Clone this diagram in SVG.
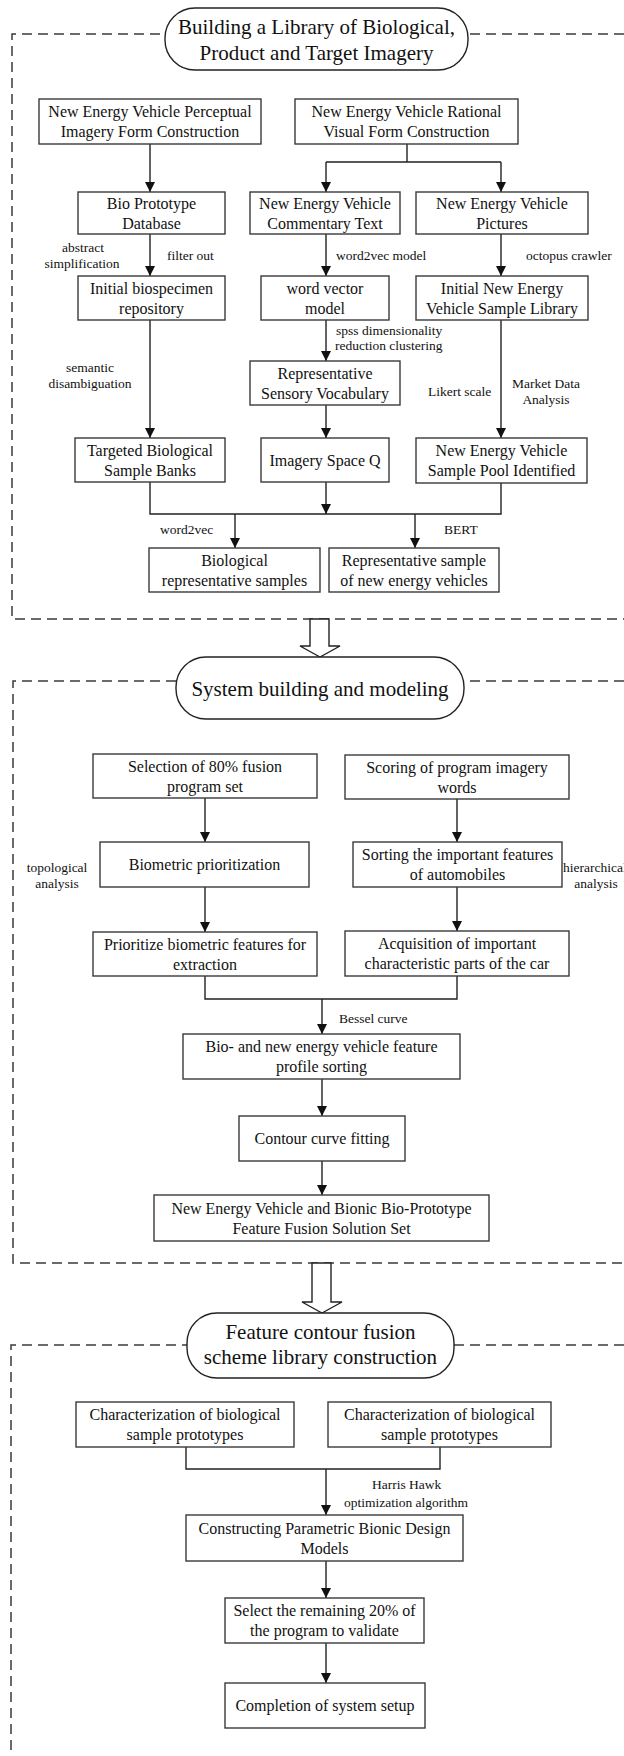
<svg xmlns="http://www.w3.org/2000/svg" width="624" height="1756" viewBox="0 0 624 1756">
<style>
  .box{fill:#fff;stroke:#3a3a3a;stroke-width:1.4}
  .pill{fill:#fff;stroke:#222;stroke-width:1.4}
  .frame{fill:none;stroke:#3a3a3a;stroke-width:1.5;stroke-dasharray:10 6}
  .ln{fill:none;stroke:#222;stroke-width:1.4}
  .arr{fill:none;stroke:#222;stroke-width:1.4;marker-end:url(#ah)}
  .blk{fill:#fff;stroke:#222;stroke-width:1.4}
  text{font-family:"Liberation Serif","Times New Roman",serif;fill:#111}
  .t{font-size:16px;text-anchor:middle}
  .h{font-size:21px;text-anchor:middle}
  .l{font-size:13.5px}
  .lm{font-size:13.5px;text-anchor:middle}
</style>
<defs>
  <marker id="ah" markerUnits="userSpaceOnUse" markerWidth="10" markerHeight="12" viewBox="0 0 10 12" refX="10" refY="6" orient="auto">
    <path d="M0,1 L10,6 L0,11 Z" fill="#111"/>
  </marker>
</defs>
<rect width="624" height="1756" fill="#fff"/>

<!-- frames -->
<g id="frames">
  <path class="frame" d="M640 34 H12 V619 H640"/>
  <path class="frame" d="M640 681 H13 V1263 H640"/>
  <path class="frame" d="M640 1345 H11 V1770"/>
</g>

<!-- block arrows -->
<g id="block-arrows">
  <path class="blk" d="M310 619 V646 H300 L320 657 L340 646 H329 V619 Z"/>
  <path class="blk" d="M312 1263 V1302 H302 L322 1313 L342 1302 H331 V1263 Z"/>
</g>

<!-- connectors -->
<g id="connectors">
  <path class="arr" d="M150 144 V192"/>
  <path class="ln" d="M407 144 V162 M326 162 H501"/>
  <path class="arr" d="M326 162 V192"/>
  <path class="arr" d="M501 162 V192"/>
  <path class="arr" d="M150 234 V276"/>
  <path class="arr" d="M326 234 V276"/>
  <path class="arr" d="M501 234 V276"/>
  <path class="arr" d="M150 320 V438"/>
  <path class="arr" d="M326 320 V361"/>
  <path class="arr" d="M501 320 V438"/>
  <path class="arr" d="M326 405 V438"/>
  <path class="ln" d="M150 482 V514 H501 V483"/>
  <path class="arr" d="M326 482 V514"/>
  <path class="arr" d="M235 514 V548"/>
  <path class="arr" d="M415 514 V548"/>

  <path class="arr" d="M205 798 V842"/>
  <path class="arr" d="M457 799 V842"/>
  <path class="arr" d="M205 887 V932"/>
  <path class="arr" d="M457 887 V931"/>
  <path class="ln" d="M205 976 V999 H457 V976"/>
  <path class="arr" d="M322 999 V1034"/>
  <path class="arr" d="M322 1079 V1116"/>
  <path class="arr" d="M322 1161 V1195"/>

  <path class="ln" d="M186 1447 V1469 H440 V1447"/>
  <path class="arr" d="M326 1469 V1515"/>
  <path class="arr" d="M326 1561 V1598"/>
  <path class="arr" d="M326 1643 V1683"/>
</g>

<!-- connector labels -->
<g id="labels">
  <text class="lm" x="83" y="251.5">abstract</text>
  <text class="lm" x="82" y="267.5">simplification</text>
  <text class="l" x="167" y="259.5">filter out</text>
  <text class="l" x="336" y="259.5">word2vec model</text>
  <text class="l" x="526" y="259.5">octopus crawler</text>
  <text class="l" x="336" y="334.5">spss dimensionality</text>
  <text class="l" x="335" y="349.5">reduction clustering</text>
  <text class="lm" x="90" y="371.5">semantic</text>
  <text class="lm" x="90" y="387.5">disambiguation</text>
  <text class="l" x="428" y="395.5">Likert scale</text>
  <text class="lm" x="546" y="387.5">Market Data</text>
  <text class="lm" x="546" y="403.5">Analysis</text>
  <text class="l" x="160" y="533.5">word2vec</text>
  <text class="l" x="444" y="533.5">BERT</text>

  <text class="lm" x="57" y="871.5">topological</text>
  <text class="lm" x="57" y="887.5">analysis</text>
  <text class="l" x="563" y="871.5">hierarchical</text>
  <text class="lm" x="596" y="887.5">analysis</text>
  <text class="l" x="339" y="1022.5">Bessel curve</text>

  <text class="l" x="372" y="1488.5">Harris Hawk</text>
  <text class="l" x="344" y="1506.5">optimization algorithm</text>
</g>

<!-- section headers -->
<g id="h1">
  <rect class="pill" x="165" y="8" width="303" height="62" rx="30"/>
  <text class="h" x="316.5" y="34">Building a Library of Biological,</text>
  <text class="h" x="316.5" y="60">Product and Target Imagery</text>
</g>
<g id="h2">
  <rect class="pill" x="176" y="657" width="288" height="62" rx="30"/>
  <text class="h" x="320" y="696">System building and modeling</text>
</g>
<g id="h3">
  <rect class="pill" x="187" y="1313" width="267" height="65" rx="30"/>
  <text class="h" x="320.5" y="1339">Feature contour fusion</text>
  <text class="h" x="320.5" y="1364">scheme library construction</text>
</g>

<!-- nodes section 1 -->
<g id="n1"><rect class="box" x="39" y="99" width="222" height="45"/>
  <text class="t" x="150" y="117">New Energy Vehicle Perceptual</text>
  <text class="t" x="150" y="137">Imagery Form Construction</text></g>
<g id="n2"><rect class="box" x="295" y="99" width="223" height="45"/>
  <text class="t" x="406.5" y="117">New Energy Vehicle Rational</text>
  <text class="t" x="406.5" y="137">Visual Form Construction</text></g>
<g id="n3"><rect class="box" x="78" y="192" width="147" height="42"/>
  <text class="t" x="151.5" y="208.5">Bio Prototype</text>
  <text class="t" x="151.5" y="228.5">Database</text></g>
<g id="n4"><rect class="box" x="250" y="192" width="150" height="42"/>
  <text class="t" x="325" y="208.5">New Energy Vehicle</text>
  <text class="t" x="325" y="228.5">Commentary Text</text></g>
<g id="n5"><rect class="box" x="416" y="192" width="172" height="42"/>
  <text class="t" x="502" y="208.5">New Energy Vehicle</text>
  <text class="t" x="502" y="228.5">Pictures</text></g>
<g id="n6"><rect class="box" x="78" y="276" width="147" height="44"/>
  <text class="t" x="151.5" y="293.5">Initial biospecimen</text>
  <text class="t" x="151.5" y="313.5">repository</text></g>
<g id="n7"><rect class="box" x="261" y="276" width="128" height="44"/>
  <text class="t" x="325" y="293.5">word vector</text>
  <text class="t" x="325" y="313.5">model</text></g>
<g id="n8"><rect class="box" x="416" y="276" width="172" height="44"/>
  <text class="t" x="502" y="293.5">Initial New Energy</text>
  <text class="t" x="502" y="313.5">Vehicle Sample Library</text></g>
<g id="n9"><rect class="box" x="250" y="361" width="150" height="44"/>
  <text class="t" x="325" y="378.5">Representative</text>
  <text class="t" x="325" y="398.5">Sensory Vocabulary</text></g>
<g id="n10"><rect class="box" x="75" y="438" width="150" height="44"/>
  <text class="t" x="150" y="455.5">Targeted Biological</text>
  <text class="t" x="150" y="475.5">Sample Banks</text></g>
<g id="n11"><rect class="box" x="261" y="438" width="128" height="44"/>
  <text class="t" x="325" y="465.5">Imagery Space Q</text></g>
<g id="n12"><rect class="box" x="416" y="438" width="171" height="45"/>
  <text class="t" x="501.5" y="456">New Energy Vehicle</text>
  <text class="t" x="501.5" y="476">Sample Pool Identified</text></g>
<g id="n13"><rect class="box" x="149" y="548" width="171" height="44"/>
  <text class="t" x="234.5" y="565.5">Biological</text>
  <text class="t" x="234.5" y="585.5">representative samples</text></g>
<g id="n14"><rect class="box" x="329" y="548" width="170" height="44"/>
  <text class="t" x="414" y="565.5">Representative sample</text>
  <text class="t" x="414" y="585.5">of new energy vehicles</text></g>

<!-- nodes section 2 -->
<g id="n15"><rect class="box" x="93" y="754" width="224" height="44"/>
  <text class="t" x="205" y="771.5">Selection of 80% fusion</text>
  <text class="t" x="205" y="791.5">program set</text></g>
<g id="n16"><rect class="box" x="345" y="755" width="224" height="44"/>
  <text class="t" x="457" y="772.5">Scoring of program imagery</text>
  <text class="t" x="457" y="792.5">words</text></g>
<g id="n17"><rect class="box" x="100" y="842" width="209" height="45"/>
  <text class="t" x="204.5" y="870">Biometric prioritization</text></g>
<g id="n18"><rect class="box" x="353" y="842" width="209" height="45"/>
  <text class="t" x="457.5" y="860">Sorting the important features</text>
  <text class="t" x="457.5" y="880">of automobiles</text></g>
<g id="n19"><rect class="box" x="93" y="932" width="224" height="44"/>
  <text class="t" x="205" y="949.5">Prioritize biometric features for</text>
  <text class="t" x="205" y="969.5">extraction</text></g>
<g id="n20"><rect class="box" x="345" y="931" width="224" height="45"/>
  <text class="t" x="457" y="949">Acquisition of important</text>
  <text class="t" x="457" y="969">characteristic parts of the car</text></g>
<g id="n21"><rect class="box" x="183" y="1034" width="277" height="45"/>
  <text class="t" x="321.5" y="1052">Bio- and new energy vehicle feature</text>
  <text class="t" x="321.5" y="1072">profile sorting</text></g>
<g id="n22"><rect class="box" x="239" y="1116" width="166" height="45"/>
  <text class="t" x="322" y="1144">Contour curve fitting</text></g>
<g id="n23"><rect class="box" x="154" y="1195" width="335" height="46"/>
  <text class="t" x="321.5" y="1213.5">New Energy Vehicle and Bionic Bio-Prototype</text>
  <text class="t" x="321.5" y="1233.5">Feature Fusion Solution Set</text></g>

<!-- nodes section 3 -->
<g id="n24"><rect class="box" x="76" y="1402" width="218" height="45"/>
  <text class="t" x="185" y="1420">Characterization of biological</text>
  <text class="t" x="185" y="1440">sample prototypes</text></g>
<g id="n25"><rect class="box" x="328" y="1402" width="223" height="45"/>
  <text class="t" x="439.5" y="1420">Characterization of biological</text>
  <text class="t" x="439.5" y="1440">sample prototypes</text></g>
<g id="n26"><rect class="box" x="186" y="1515" width="277" height="46"/>
  <text class="t" x="324.5" y="1533.5">Constructing Parametric Bionic Design</text>
  <text class="t" x="324.5" y="1553.5">Models</text></g>
<g id="n27"><rect class="box" x="225" y="1598" width="199" height="45"/>
  <text class="t" x="324.5" y="1616">Select the remaining 20% of</text>
  <text class="t" x="324.5" y="1636">the program to validate</text></g>
<g id="n28"><rect class="box" x="225" y="1683" width="200" height="45"/>
  <text class="t" x="325" y="1711">Completion of system setup</text></g>
</svg>
